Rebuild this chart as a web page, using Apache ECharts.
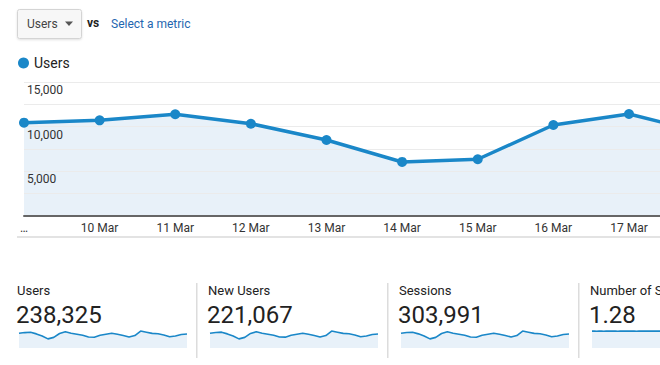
<!DOCTYPE html>
<html>
<head>
<meta charset="utf-8">
<script src="https://cdn.jsdelivr.net/npm/echarts@6/dist/echarts.min.js"></script>
<style>
  html, body { margin: 0; padding: 0; background: #fff; }
  #chart { width: 660px; height: 365px; }
</style>
</head>
<body>
<div id="chart"></div>
<script>
// ---------- data ----------
const categories = ['…', '10 Mar', '11 Mar', '12 Mar', '13 Mar', '14 Mar', '15 Mar', '16 Mar', '17 Mar', '18 Mar'];
const users = [10450, 10710, 11390, 10330, 8510, 6050, 6350, 10190, 11420, 9290];

const yTickValues = [5000, 10000, 15000];
const yTickLabels = ['5,000', '10,000', '15,000'];

const metricNames = ['Users', 'New Users', 'Sessions', 'Number of Sessions per User'];
const metricValues = ['238,325', '221,067', '303,991', '1.28'];

const sparkUsers = [8730, 9140, 9380, 8370, 7120, 5400, 6290, 8610, 9620, 8790, 8190, 7540, 6530, 6410, 7540,
                    8130, 8730, 8130, 7420, 6530, 7360, 10030, 9380, 8670, 8430, 7720, 6710, 7120, 8010, 8310];
const sparkNewUsers = [8100, 8480, 8700, 7760, 6600, 5010, 5830, 7990, 8920, 8150, 7600, 6990, 6060, 5950, 6990,
                       7540, 8100, 7540, 6880, 6060, 6830, 9300, 8700, 8040, 7820, 7160, 6220, 6600, 7430, 7710];
const sparkSessions = [11140, 11660, 11960, 10680, 9080, 6890, 8020, 10980, 12270, 11210, 10450, 9620, 8330, 8180, 9620,
                       10370, 11140, 10370, 9460, 8330, 9390, 12790, 11960, 11060, 10750, 9850, 8560, 9080, 10220, 10600];
const sparkSessionsPerUser = [1.28, 1.28, 1.27, 1.28, 1.28, 1.27, 1.28, 1.28, 1.28, 1.28, 1.28, 1.27, 1.28, 1.28, 1.28,
                              1.28, 1.28, 1.28, 1.28, 1.27, 1.28, 1.28, 1.28, 1.28, 1.28, 1.28, 1.28, 1.28, 1.28, 1.28];
const sparkDays = ['1','2','3','4','5','6','7','8','9','10','11','12','13','14','15',
                   '16','17','18','19','20','21','22','23','24','25','26','27','28','29','30'];

// ---------- styles ----------
const BLUE = '#1a87c8';
const AREA = '#e8f1f9';
const FONT = 'Roboto, Arial, sans-serif';

const sparkSets = [sparkUsers, sparkNewUsers, sparkSessions, sparkSessionsPerUser];
const sparkLefts = [19, 210, 401, 592];
const colLefts = [17, 208, 399, 590];

// main chart: the visible window shows the days from the first one up to a bit before the last one
const usersPoints = users.map(function (v, i) { return [i, v]; });

const grids = [{ left: 24, right: 0, top: 82, height: 134 }];
const xAxes = [{
  gridIndex: 0, type: 'value', min: 0, max: 8.41, interval: 1, z: 5,
  axisLine: { show: true, lineStyle: { color: '#666', width: 2 } },
  axisTick: { show: false },
  axisLabel: {
    color: '#333', fontSize: 12, fontFamily: FONT, margin: 6, showMaxLabel: false,
    formatter: function (v) { return Number.isInteger(v) && categories[v] !== undefined ? categories[v] : ''; }
  },
  splitLine: { show: false }
}];
const yAxes = [{
  gridIndex: 0, type: 'value', min: 0, max: 15000, interval: 2500, z: 5,
  axisLine: { show: false }, axisTick: { show: false },
  axisLabel: {
    inside: true, margin: 3, align: 'left', verticalAlign: 'top', padding: [2, 0, 0, 0],
    color: '#333', fontSize: 12, fontFamily: FONT, showMinLabel: true, showMaxLabel: true,
    formatter: function (v) { const i = yTickValues.indexOf(v); return i >= 0 ? yTickLabels[i] : ''; }
  },
  splitLine: { lineStyle: { color: '#ebebeb', width: 1 } }
}];
const series = [{
  name: 'Users area', type: 'line', xAxisIndex: 0, yAxisIndex: 0, data: usersPoints,
  showSymbol: false, silent: true, clip: true,
  lineStyle: { width: 0, opacity: 0 },
  areaStyle: { color: AREA, opacity: 1 },
  z: 1
}, {
  name: 'Users', type: 'line', xAxisIndex: 0, yAxisIndex: 0, data: usersPoints,
  symbol: 'circle', symbolSize: 10, showSymbol: true, clip: true,
  lineStyle: { color: BLUE, width: 3.5 },
  itemStyle: { color: BLUE },
  z: 10
}];

sparkSets.forEach(function (d, k) {
  const gi = k + 1;
  grids.push({ left: sparkLefts[k], width: 168, top: 326, height: 22 });
  xAxes.push({ gridIndex: gi, type: 'category', data: sparkDays, boundaryGap: false, show: false });
  yAxes.push({ gridIndex: gi, type: 'value', min: 0, max: function (v) { return v.max * 1.3; }, show: false, splitLine: { show: false } });
  series.push({
    name: metricNames[k] + ' trend', type: 'line', xAxisIndex: gi, yAxisIndex: gi, data: d,
    showSymbol: false, silent: true,
    lineStyle: { color: BLUE, width: 1.6 },
    areaStyle: { color: AREA, opacity: 1 }
  });
});

const graphics = [
  { type: 'rect', shape: { x: 17.5, y: 9.5, width: 64, height: 29, r: 2 },
    style: { fill: '#f7f7f7', stroke: '#d4d4d4', lineWidth: 1, shadowBlur: 2, shadowColor: 'rgba(0,0,0,0.12)', shadowOffsetY: 1 } },
  { type: 'text', x: 27, y: 24, style: { text: 'Users', font: '12px ' + FONT, fill: '#444', verticalAlign: 'middle' } },
  { type: 'polygon', shape: { points: [[65, 21.5], [73, 21.5], [69, 26]] }, style: { fill: '#555' } },
  { type: 'text', x: 87, y: 23, style: { text: 'vs', font: 'bold 12px ' + FONT, fill: '#222', verticalAlign: 'middle' } },
  { type: 'text', x: 111, y: 23.5, style: { text: 'Select a metric', font: '12px ' + FONT, fill: '#1f66b0', verticalAlign: 'middle' } },
  { type: 'rect', shape: { x: 17, y: 236, width: 643, height: 2 }, style: { fill: '#e3e3e3' } }
];
[196, 387, 578].forEach(function (x) {
  graphics.push({ type: 'rect', shape: { x: x, y: 283, width: 1.5, height: 75 }, style: { fill: '#dcdcdc' } });
});
metricNames.forEach(function (n, k) {
  graphics.push({ type: 'text', x: colLefts[k], y: 290, style: { text: n, font: '13px ' + FONT, fill: '#222', verticalAlign: 'middle' } });
  graphics.push({ type: 'text', x: colLefts[k] - 1, y: 315, style: { text: metricValues[k], font: '24px ' + FONT, fill: '#222', verticalAlign: 'middle' } });
});

const chart = echarts.init(document.getElementById('chart'), null, { renderer: 'svg', width: 660, height: 365 });
chart.setOption({
  animation: false,
  backgroundColor: '#fff',
  textStyle: { fontFamily: FONT },
  legend: {
    data: ['Users'], left: 13, top: 51, icon: 'circle', itemWidth: 11, itemHeight: 11, itemGap: 7,
    textStyle: { fontSize: 14, color: '#222', fontFamily: FONT }, selectedMode: false
  },
  grid: grids,
  xAxis: xAxes,
  yAxis: yAxes,
  series: series,
  graphic: graphics
});
</script>
</body>
</html>
